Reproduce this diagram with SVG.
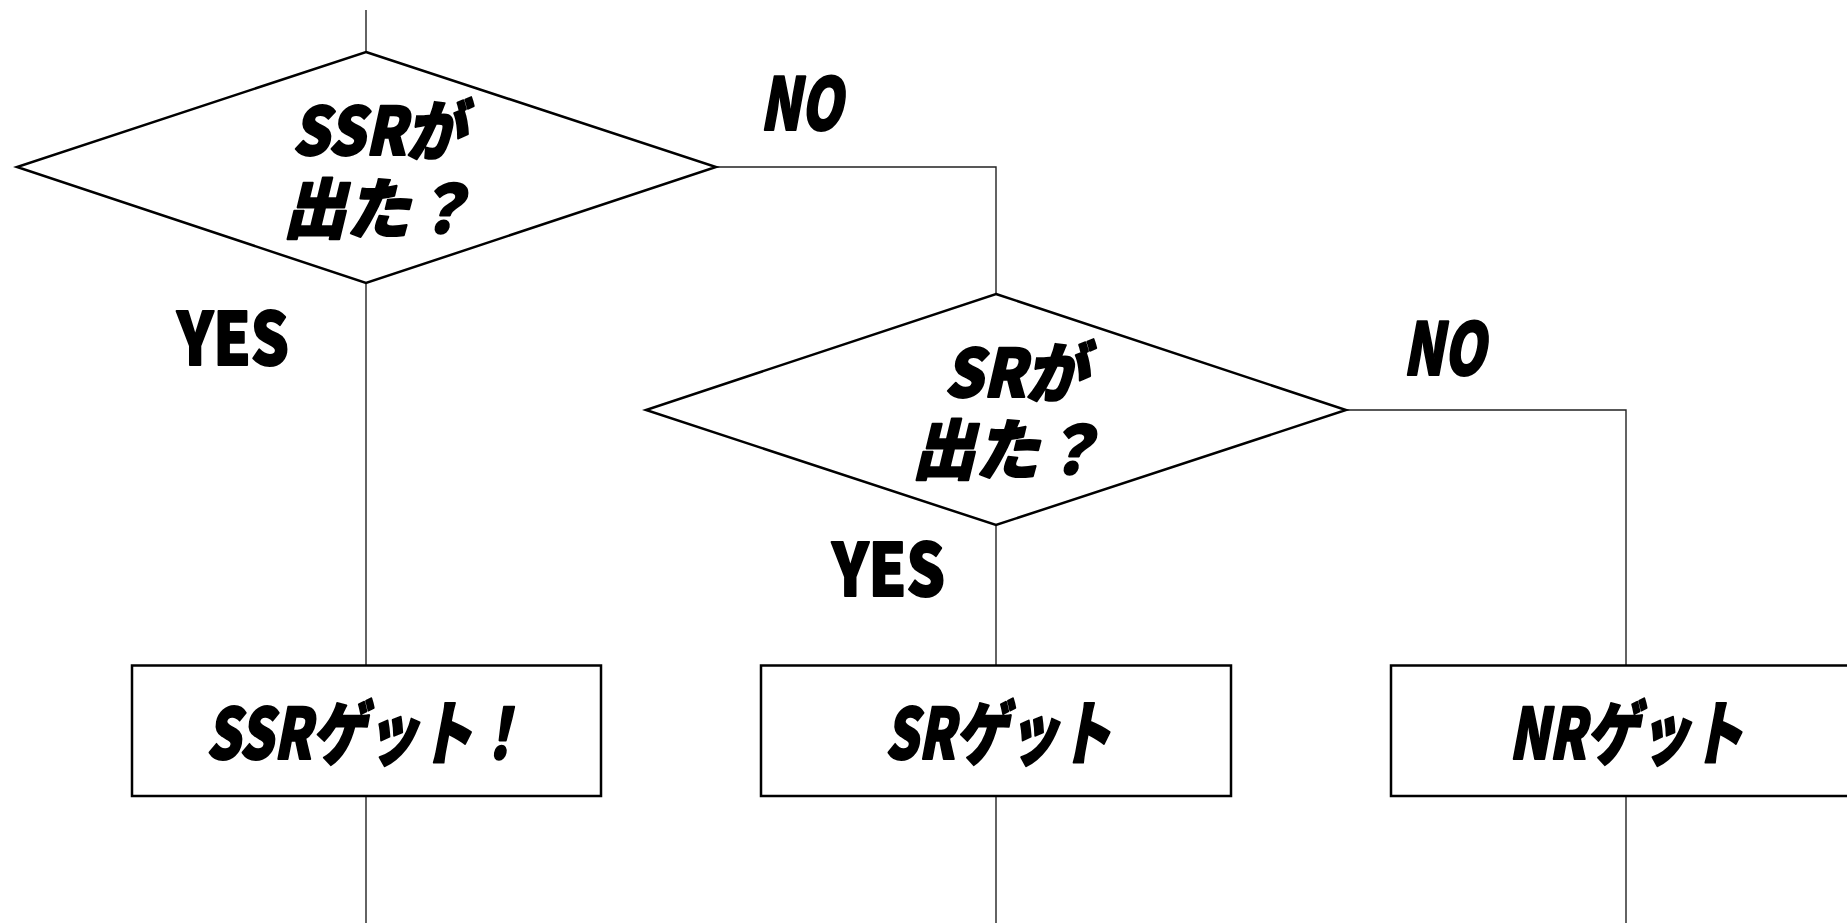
<svg xmlns="http://www.w3.org/2000/svg" width="1847" height="923" viewBox="0 0 1847 923">
<style>
.shape{fill:#fff;stroke:#000;stroke-width:2.5}
.conn{fill:none;stroke:#222;stroke-width:1.4}
text{font-family:"Noto Sans CJK JP","Noto Sans",sans-serif;font-weight:900;font-style:italic;fill:#000;stroke:#000;stroke-width:2;stroke-linejoin:round}
.q{font-size:66px}
.b{font-size:70px}
.l{font-size:72px}
.u{font-style:normal}
</style>
<rect width="1847" height="923" fill="#fff"/>
<g id="connectors">
<path class="conn" d="M366,10V52"/>
<path class="conn" d="M366,283V665"/>
<path class="conn" d="M716,167H996V294"/>
<path class="conn" d="M996,525V665"/>
<path class="conn" d="M1346,410H1626V665"/>
<path class="conn" d="M366,796V923"/>
<path class="conn" d="M996,796V923"/>
<path class="conn" d="M1626,796V923"/>
</g>
<g id="decision1">
<polygon class="shape" points="366,52 716,167 366,283 17,167"/>
<text class="q"><tspan x="292" y="155" textLength="172" lengthAdjust="spacingAndGlyphs">SSRが</tspan><tspan x="283" y="233" textLength="190" lengthAdjust="spacingAndGlyphs">出た？</tspan></text>
</g>
<g id="decision2">
<polygon class="shape" points="996,294 1346,410 996,525 646,410"/>
<text class="q"><tspan x="944" y="397" textLength="142" lengthAdjust="spacingAndGlyphs">SRが</tspan><tspan x="912" y="474" textLength="190" lengthAdjust="spacingAndGlyphs">出た？</tspan></text>
</g>
<g id="result-ssr">
<rect class="shape" x="132" y="665.5" width="469" height="130.5"/>
<text class="b" x="206" y="759" textLength="320" lengthAdjust="spacingAndGlyphs">SSRゲット！</text>
</g>
<g id="result-sr">
<rect class="shape" x="761" y="665.5" width="470" height="130.5"/>
<text class="b" x="885" y="759" textLength="226" lengthAdjust="spacingAndGlyphs">SRゲット</text>
</g>
<g id="result-nr">
<rect class="shape" x="1391" y="665.5" width="470" height="130.5"/>
<text class="b" x="1509" y="759" textLength="234" lengthAdjust="spacingAndGlyphs">NRゲット</text>
</g>
<g id="labels">
<text class="l" x="760" y="130" textLength="82" lengthAdjust="spacingAndGlyphs">NO</text>
<text class="l" x="1403" y="375" textLength="82" lengthAdjust="spacingAndGlyphs">NO</text>
<text class="l u" x="177" y="365" textLength="112" lengthAdjust="spacingAndGlyphs">YES</text>
<text class="l u" x="832" y="596" textLength="113" lengthAdjust="spacingAndGlyphs">YES</text>
</g>
</svg>
